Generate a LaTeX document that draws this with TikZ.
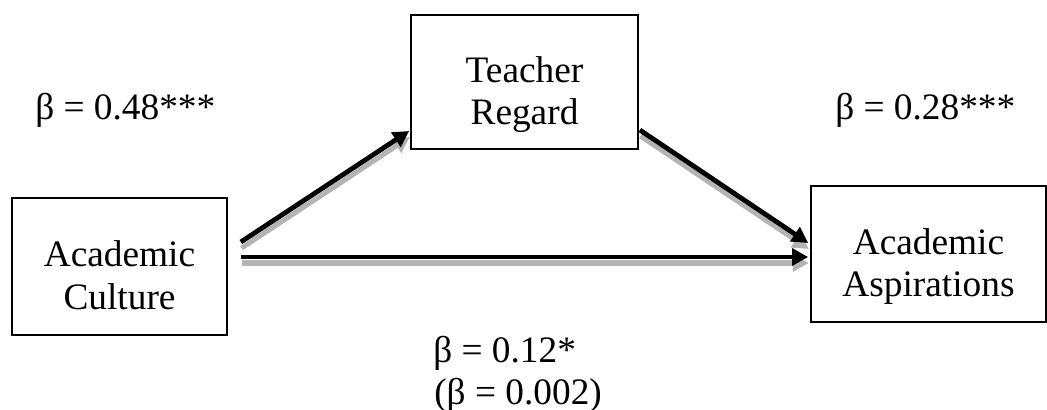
\documentclass[tikz,border=0pt]{standalone}
\usepackage{fontspec}
\setmainfont{Liberation Serif}
\usetikzlibrary{arrows.meta,calc}
\definecolor{shadowgray}{RGB}{180,180,180}
% two lines with the first baseline at the node centre
\newcommand{\twoline}[2]{\rule{0pt}{40pt}#1\\#2\rule[-8pt]{0pt}{8pt}}

\begin{document}
\begin{tikzpicture}[x=0.75pt,y=-0.75pt
,boxstyle/.style={draw=black,line width=1.5pt,align=center,inner sep=0,font=\fontsize{28}{32}\selectfont}
,betastyle/.style={anchor=base west,inner sep=0,font=\fontsize{28}{28}\selectfont}
,pathstyle/.style={line width=3.6pt,-{Triangle[length=12pt,width=12.5pt]},preaction={draw=shadowgray,line width=3.8pt,transform canvas={shift={(0.5pt,-4.5pt)}}}}
]
\useasboundingbox (0,0) rectangle (1047,410);
\node[boxstyle,minimum width=161pt,minimum height=103pt] (culture) at (119.5,266.5) {\twoline{Academic}{Culture}};
\node[boxstyle,minimum width=170pt,minimum height=100.5pt] (teacher) at (524.5,82) {\twoline{Teacher}{Regard}};
\node[boxstyle,minimum width=176pt,minimum height=102pt] (aspir) at (928.5,254) {\twoline{Academic}{Aspirations}};
\node[betastyle] (beta1) at (35,119) {β = 0.48***};
\node[betastyle] (beta2) at (835,119) {β = 0.28***};
\node[betastyle] (beta3) at (433,362) {β = 0.12*};
\node[betastyle] (beta4) at (434,404) {(β = 0.002)};
\draw[pathstyle] ([shift={(13,-24.5)}]culture.east) -- ([shift={(-1,-19)}]teacher.south west);
\draw[pathstyle] ([shift={(1,-20)}]teacher.south east) -- ([shift={(-2,-11)}]aspir.west);
\draw[pathstyle] ([shift={(13,-9.5)}]culture.east) -- ([shift={(-2,3)}]aspir.west);
\end{tikzpicture}
\end{document}
